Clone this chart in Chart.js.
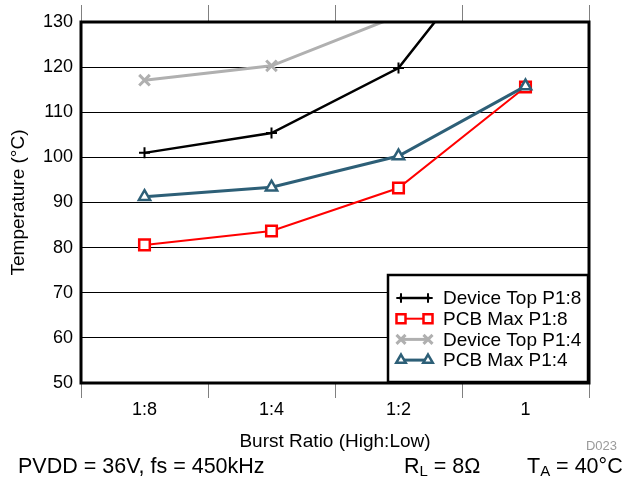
<!DOCTYPE html>
<html>
<head>
<meta charset="utf-8">
<script src="https://cdn.jsdelivr.net/npm/chart.js@4.4.1/dist/chart.umd.min.js"></script>
<style>
  html, body { margin: 0; padding: 0; background: #ffffff; }
  #wrap { width: 627px; height: 483px; position: relative; }
</style>
</head>
<body>
<div id="wrap"><canvas id="c" width="627" height="483"></canvas></div>
<script>
const categories = ['1:8', '1:4', '1:2', '1'];
const deviceTopP18 = [101.0, 105.4, 119.8, 155.5];
const pcbMaxP18 = [80.6, 83.7, 93.2, 115.6];
const deviceTopP14 = [117.1, 120.3, 131.4, 158.0];
const pcbMaxP14 = [91.3, 93.4, 100.3, 115.8];
const seriesNames = ['Device Top P1:8', 'PCB Max P1:8', 'Device Top P1:4', 'PCB Max P1:4'];
const yMin = 50, yMax = 130, yStep = 10;
const xTitle = 'Burst Ratio (High:Low)';
const yTitle = 'Temperature (\u00B0C)';
const noteLeft = 'PVDD = 36V, fs = 450kHz';
const figId = 'D023';

const FONT = "'Liberation Sans', Arial, sans-serif";

const framePlugin = {
  id: 'frame',
  afterDatasetsDraw(chart) {
    const { ctx, chartArea: a } = chart;
    ctx.save();
    ctx.strokeStyle = '#000';
    ctx.lineWidth = 3;
    ctx.strokeRect(a.left, a.top, a.right - a.left, a.bottom - a.top);
    ctx.restore();
  }
};

function drawSub(ctx, x, y, main, sub, rest, size) {
  ctx.font = size + 'px ' + FONT;
  ctx.fillText(main, x, y);
  let w = ctx.measureText(main).width;
  ctx.font = Math.round(size * 0.68) + 'px ' + FONT;
  ctx.fillText(sub, x + w, y + size * 0.22);
  w += ctx.measureText(sub).width;
  ctx.font = size + 'px ' + FONT;
  ctx.fillText(rest, x + w, y);
}

const legendPlugin = {
  id: 'boxLegend',
  afterDraw(chart) {
    const { ctx } = chart;
    const bx = 388, by = 275, bw = 200, bh = 107;
    ctx.save();
    ctx.fillStyle = '#fff';
    ctx.fillRect(bx, by, bw, bh);
    ctx.strokeStyle = '#000';
    ctx.lineWidth = 2.5;
    ctx.strokeRect(bx, by, bw, bh);
    chart.data.datasets.forEach((ds, i) => {
      const y = 298 + i * 20.7;
      ctx.strokeStyle = ds.borderColor;
      ctx.lineWidth = ds.borderWidth;
      ctx.beginPath();
      ctx.moveTo(399, y);
      ctx.lineTo(430, y);
      ctx.stroke();
      [401, 428].forEach(px => {
        ctx.fillStyle = ds.pointBackgroundColor;
        ctx.strokeStyle = ds.borderColor;
        ctx.lineWidth = ds.pointBorderWidth;
        Chart.helpers.drawPoint(ctx, {
          pointStyle: ds.pointStyle,
          radius: ds.pointRadius * 0.85,
          borderWidth: ds.pointBorderWidth,
          rotation: 0
        }, px, y);
      });
      ctx.fillStyle = '#000';
      ctx.font = '19px ' + FONT;
      ctx.textBaseline = 'middle';
      ctx.textAlign = 'left';
      ctx.fillText(ds.label, 443, y + 1);
    });
    // bottom notes
    ctx.fillStyle = '#000';
    ctx.textBaseline = 'middle';
    ctx.textAlign = 'left';
    ctx.font = '21.5px ' + FONT;
    ctx.fillText(noteLeft, 18, 467);
    drawSub(ctx, 404, 467, 'R', 'L', ' = 8\u03A9', 21.5);
    drawSub(ctx, 527, 467, 'T', 'A', ' = 40\u00B0C', 21.5);
    ctx.fillStyle = '#9a9a9a';
    ctx.font = '13px ' + FONT;
    ctx.textAlign = 'right';
    ctx.fillText(figId, 617, 446);
    ctx.restore();
  }
};

new Chart(document.getElementById('c'), {
  type: 'line',
  data: {
    labels: categories,
    datasets: [
      { label: seriesNames[0], data: deviceTopP18, order: 1, borderColor: '#000000', backgroundColor: '#000000',
        pointBackgroundColor: '#000000', borderWidth: 2.5, pointStyle: 'cross', pointRadius: 5.5, pointBorderWidth: 2 },
      { label: seriesNames[1], data: pcbMaxP18, order: 2, borderColor: '#ff0000', backgroundColor: '#ffffff',
        pointBackgroundColor: '#ffffff', borderWidth: 2, pointStyle: 'rect', pointRadius: 7.5, pointBorderWidth: 2.5 },
      { label: seriesNames[2], data: deviceTopP14, order: 3, borderColor: '#b0b0b0', backgroundColor: '#b0b0b0',
        pointBackgroundColor: '#b0b0b0', borderWidth: 3, pointStyle: 'crossRot', pointRadius: 7.5, pointBorderWidth: 3 },
      { label: seriesNames[3], data: pcbMaxP14, order: 0, borderColor: '#2d5f77', backgroundColor: '#ffffff',
        pointBackgroundColor: '#ffffff', borderWidth: 3, pointStyle: 'triangle', pointRadius: 6.5, pointBorderWidth: 2.5 }
    ]
  },
  options: {
    responsive: false,
    animation: false,
    events: [],
    layout: { padding: { left: 0, right: 38, top: 0, bottom: 0 } },
    plugins: { legend: { display: false }, tooltip: { enabled: false } },
    elements: { line: { tension: 0 } },
    scales: {
      x: {
        type: 'category',
        position: 'bottom',
        offset: true,
        grid: { drawOnChartArea: false, color: '#808080', tickLength: 15, lineWidth: 1, offset: true },
        border: { display: false },
        ticks: { color: '#000', font: { family: FONT, size: 18 }, padding: 1, maxRotation: 0 },
        title: { display: true, text: xTitle, color: '#000', font: { family: FONT, size: 19 }, padding: { top: 0, bottom: 30 } },
        afterFit(s) { s.height = 100; }
      },
      x2: {
        type: 'category',
        position: 'top',
        offset: true,
        labels: categories,
        grid: { drawOnChartArea: false, color: '#808080', tickLength: 17, lineWidth: 1, offset: true },
        border: { display: false },
        ticks: { display: false },
        afterFit(s) { s.height = 22; }
      },
      y: {
        min: yMin, max: yMax,
        position: 'left',
        grid: { color: '#000', lineWidth: 1, drawTicks: false },
        border: { display: false },
        ticks: { stepSize: yStep, color: '#000', font: { family: FONT, size: 18 }, padding: 8 },
        title: { display: true, text: yTitle, color: '#000', font: { family: FONT, size: 19 }, padding: { top: 7.5, bottom: 0 } },
        afterFit(s) { s.width = 81; }
      }
    }
  },
  plugins: [framePlugin, legendPlugin]
});
</script>
</body>
</html>
